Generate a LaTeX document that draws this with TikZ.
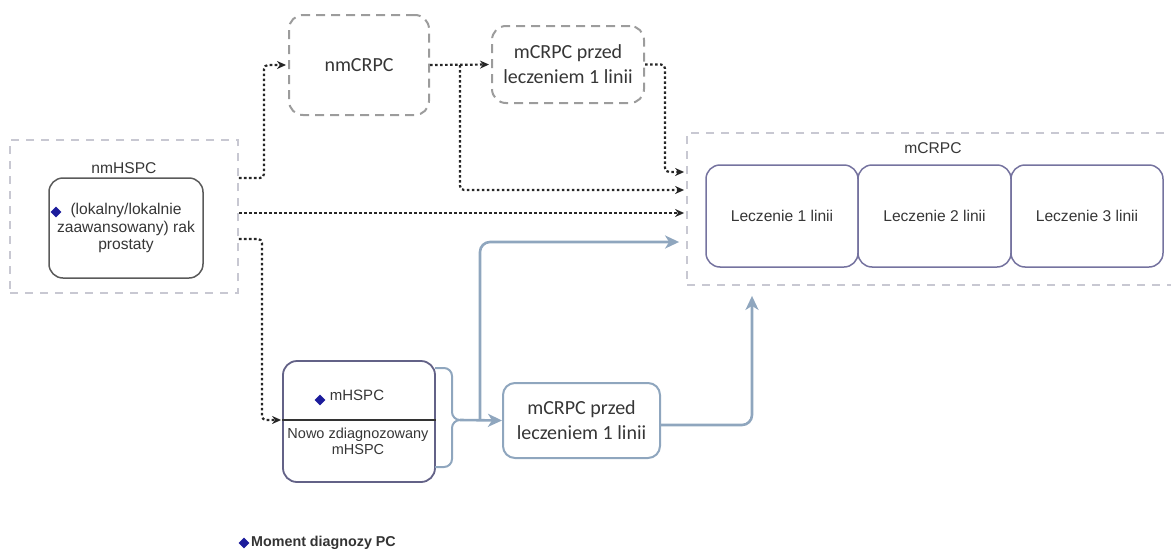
\documentclass[tikz,border=0pt]{standalone}
\usepackage{fontspec}
\setmainfont{Liberation Sans}
\newfontfamily\calib{Carlito}
\usetikzlibrary{arrows.meta,shapes.geometric,calc}

\definecolor{txt}{HTML}{363636}
\definecolor{lightdash}{HTML}{C8C8D2}
\definecolor{greydash}{HTML}{9C9C9C}
\definecolor{lilac}{HTML}{75739F}
\definecolor{steel}{HTML}{8FA6BE}
\definecolor{gemblue}{HTML}{1C1C9C}
\definecolor{darkrim}{HTML}{5A5A5A}

\begin{document}
\begin{tikzpicture}[x=1pt,y=-1pt,
  every node/.style={text=txt, inner sep=0pt},
  zone/.style={draw=lightdash, line width=1.8pt, dash pattern=on 8pt off 7pt},
  stagebox/.style={draw=greydash, line width=2pt, dash pattern=on 9pt off 6pt, rounded corners=14pt},
  linebox/.style={draw=lilac, line width=1.5pt, rounded corners=14pt},
  steelbox/.style={draw=steel, line width=2pt, rounded corners=12pt},
  flowdot/.style={draw=black!85, line width=2.2pt, dash pattern=on 2.6pt off 2.4pt, rounded corners=4pt,
    -{Stealth[length=9pt,width=8pt]}},
  flowsteel/.style={draw=steel, line width=2.6pt, rounded corners=10pt,
    -{Stealth[length=14pt,width=13pt,inset=4pt]}},
  gem/.style={diamond, fill=gemblue, minimum size=11pt},
  arial/.style={font=\fontsize{15.6}{17.5}\selectfont},
  cal/.style={font=\calib\fontsize{20}{25}\selectfont},
]
\path[use as bounding box] (0,0) rectangle (1171,552);
\clip (0,0) rectangle (1171,552);

% non-metastatic hormone-sensitive stage
\node[zone, minimum width=228pt, minimum height=153pt] (nmhspc) at (124,216.5) {};
\node[arial] (nmhspcT) at (124,168) {nmHSPC};
\node[draw=darkrim, line width=1.5pt, rounded corners=14pt, minimum width=154pt,
      minimum height=100pt, arial, align=center] (local) at (126,228)
      {(lokalny/lokalnie\\zaawansowany) rak\\prostaty};
\node[gem] (g1) at (56,212) {};

% upper dashed stages
\node[stagebox, minimum width=140pt, minimum height=100pt, cal] (nmcrpc) at (359,65) {nmCRPC};
\node[stagebox, minimum width=152pt, minimum height=77pt, cal, align=center] (prefirst) at (568,64.5)
      {mCRPC przed\\leczeniem 1 linii};

% metastatic castration-resistant stage with treatment lines
\node[zone, minimum width=500pt, minimum height=152pt] (mcrpc) at (937,209) {};
\node[arial] (mcrpcT) at (933,148) {mCRPC};
\node[linebox, minimum width=152pt, minimum height=102pt, arial] (l1) at (782,216) {Leczenie 1 linii};
\node[linebox, minimum width=153pt, minimum height=102pt, arial] (l2) at (934.5,216) {Leczenie 2 linii};
\node[linebox, minimum width=152pt, minimum height=102pt, arial] (l3) at (1087,216) {Leczenie 3 linii};

% metastatic hormone-sensitive stage
\node[draw=lilac!85!black, line width=1.8pt, rounded corners=14pt, minimum width=152pt,
      minimum height=121pt] (mhspc) at (359,421.5) {};
\draw[black!80, line width=1.2pt] (mhspc.west |- 0,420) -- (mhspc.east |- 0,420);
\node[font=\fontsize{15}{17}\selectfont] (mhspcT) at (357,395) {mHSPC};
\node[gem] (g2) at (320,400) {};
\node[font=\fontsize{14.5}{16}\selectfont, align=center] (newdx) at (358,441)
      {Nowo zdiagnozowany\\mHSPC};

% curly bracket on the right of mHSPC
\draw[steel, line width=2pt] (435,368) -- (444,368) to[out=0,in=90] (452,376) -- (452,412)
  to[out=-90,in=180] (460,420) to[out=180,in=90] (452,428) -- (452,459)
  to[out=-90,in=0] (444,467) -- (435,467);
\coordinate (tip) at (460,420);
\coordinate (split) at (480,420);

\node[steelbox, minimum width=157pt, minimum height=75pt, cal, align=center] (prefirst2) at (581.5,420.5)
      {mCRPC przed\\leczeniem 1 linii};

% solid transitions
\draw[flowsteel] (tip) -- (prefirst2.west);
\draw[flowsteel, shorten >=7pt] (split) |- (mcrpc.west |- 0,242);
\draw[flowsteel, shorten >=10pt] (prefirst2.east |- 0,425) -| (mcrpc.south -| 752,0);

% dotted transitions
\coordinate (fork) at (460,65);
\draw[flowdot, shorten >=2pt] (nmhspc.east |- 0,178) -- (264,178) -- (264,65) -- (nmcrpc.west);
\draw[flowdot, shorten >=2pt] (nmcrpc.east) -- (prefirst.west);
\draw[flowdot, shorten >=2pt] (fork) -- (460,190) -- (mcrpc.west |- 0,190);
\draw[flowdot, shorten >=2pt] (prefirst.east) -- (665,64.5) -- (665,172) -- (mcrpc.west |- 0,172);
\draw[flowdot, shorten >=2pt] (nmhspc.east |- 0,213) -- (mcrpc.west |- 0,213);
\draw[flowdot, shorten >=1pt] (nmhspc.east |- 0,239) -- (262,239) -- (262,420) -- (mhspc.west |- 0,420);

% legend
\node[gem, minimum size=11pt] (g3) at (244,543) {};
\node[anchor=west, text=black!80, font=\bfseries\fontsize{14.3}{16}\selectfont] (legend) at (251,543)
      {Moment diagnozy PC};
\end{tikzpicture}
\end{document}
